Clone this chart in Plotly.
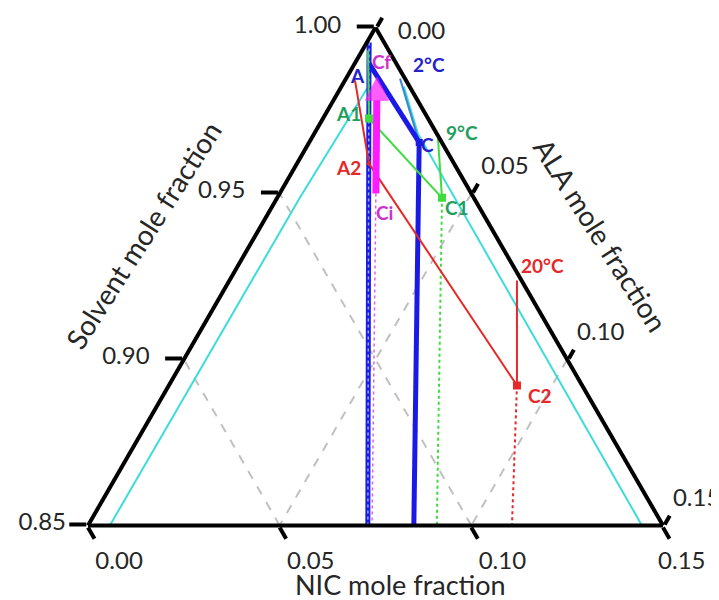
import plotly.graph_objects as go

W, H = 719, 600
OFF = 8  # page body margin of the browser

# ---------------- data (ternary fractions: a = Solvent, b, c) ----------------
# axis ticks
solvent_ticks = [0.85, 0.90, 0.95, 1.00]
solvent_labels = ["0.85", "0.90", "0.95", "1.00"]
nic_tickvals = [0.15, 0.10, 0.05, 0.00]
nic_labels = ["0.00", "0.05", "0.10", "0.15"]
ala_tickvals = [0.00, 0.05, 0.10, 0.15]
ala_labels = ["0.00", "0.05", "0.10", "0.15"]

# cyan boundary lines
cyanL_a = [0.9816, 0.9488, 0.85]
cyanL_b = [0.0114, 0.0453, 0.1443]
cyanL_c = [0.0070, 0.0059, 0.0057]
cyanR_a = [0.9822, 0.9681, 0.85]
cyanR_b = [0.0015, 0.0049, 0.0055]
cyanR_c = [0.0163, 0.0270, 0.1445]

# 2 C (blue)
blueL_a = [0.9955, 0.9892, 0.85]
blueL_b = [0.0039, 0.0071, 0.0770]
blueL_c = [0.0006, 0.0037, 0.0730]
blueR_a = [0.9654, 0.85]
blueR_b = [0.0059, 0.0650]
blueR_c = [0.0287, 0.0850]
blueTie_a = [0.9892, 0.9654]
blueTie_b = [0.0071, 0.0059]
blueTie_c = [0.0037, 0.0287]
steel_a = [0.9846, 0.9654]
steel_b = [0.0013, 0.0059]
steel_c = [0.0141, 0.0287]

# 9 C (green)
greenL_a = [0.9931, 0.9726]
greenL_b = [0.0054, 0.0154]
greenL_c = [0.0015, 0.0120]
greenTie_a = [0.9726, 0.9488]
greenTie_b = [0.0154, 0.0083]
greenTie_c = [0.0120, 0.0430]
greenR_a = [0.9666, 0.9488]
greenR_b = [0.0004, 0.0083]
greenR_c = [0.0330, 0.0430]
greenDot_a = [0.9488, 0.85]
greenDot_b = [0.0083, 0.0590]
greenDot_c = [0.0430, 0.0910]

# 20 C (red)
redL_a = [0.9840, 0.9590]
redL_b = [0.0133, 0.0222]
redL_c = [0.0026, 0.0188]
redTie_a = [0.9590, 0.8922]
redTie_b = [0.0222, 0.0170]
redTie_c = [0.0188, 0.0908]
redR_a = [0.9238, 0.8922]
redR_b = [0.0012, 0.0170]
redR_c = [0.0750, 0.0908]
redDot_a = [0.8922, 0.85]
redDot_b = [0.0170, 0.0394]
redDot_c = [0.0908, 0.1106]

# magenta Ci -> Cf
magDot_a = [0.95, 0.85]
magDot_b = [0.0249, 0.0759]
magDot_c = [0.0251, 0.0741]
arrow_a = [0.95, 0.9849]
arrow_b = [0.0249, 0.0071]
arrow_c = [0.0251, 0.0079]

# ---------------- colours ----------------
CYAN = "#3ddcdc"
BLUE = "#1a1ae6"
STEEL = "#3a86d6"
GREEN = "#3fdc3f"
RED = "#e62828"
MAG = "#ff1aff"

fig = go.Figure()


def line(a, b, c, color, width, dash="solid"):
    fig.add_trace(go.Scatterternary(a=a, b=b, c=c, mode="lines",
                                    line=dict(color=color, width=width, dash=dash),
                                    hoverinfo="skip", showlegend=False))


def markers(a, b, c, color, size, symbol="square"):
    fig.add_trace(go.Scatterternary(a=a, b=b, c=c, mode="markers",
                                    marker=dict(color=color, size=size, symbol=symbol),
                                    hoverinfo="skip", showlegend=False))


line(cyanL_a, cyanL_b, cyanL_c, CYAN, 2)
line(cyanR_a, cyanR_b, cyanR_c, CYAN, 2)
line(greenDot_a, greenDot_b, greenDot_c, GREEN, 2, "dot")
line(redDot_a, redDot_b, redDot_c, RED, 2, "dot")
line(magDot_a, magDot_b, magDot_c, "#e060e0", 1.5, "dot")
line(blueL_a, blueL_b, blueL_c, BLUE, 5)
line(blueL_a, blueL_b, blueL_c, "#8fb0ee", 1.5, "dot")
line(blueR_a, blueR_b, blueR_c, BLUE, 5)
line(steel_a, steel_b, steel_c, STEEL, 2)
line(blueTie_a, blueTie_b, blueTie_c, BLUE, 5)
line(greenL_a, greenL_b, greenL_c, GREEN, 2)
line(greenTie_a, greenTie_b, greenTie_c, GREEN, 2)
line(greenR_a, greenR_b, greenR_c, GREEN, 2)
line(redL_a, redL_b, redL_c, RED, 2)
line(redTie_a, redTie_b, redTie_c, RED, 2)
line(redR_a, redR_b, redR_c, RED, 2)

# arrow Ci -> Cf
fig.add_trace(go.Scatterternary(a=arrow_a, b=arrow_b, c=arrow_c, mode="lines+markers",
                                line=dict(color=MAG, width=7),
                                marker=dict(color=MAG, size=[0, 23], symbol="arrow-up",
                                            line=dict(color=MAG, width=1)),
                                hoverinfo="skip", showlegend=False))

markers([greenTie_a[0], greenTie_a[1]], [greenTie_b[0], greenTie_b[1]],
        [greenTie_c[0], greenTie_c[1]], GREEN, 8)
markers([redTie_a[1]], [redTie_b[1]], [redTie_c[1]], RED, 8)
markers([redTie_a[0]], [redTie_b[0]], [redTie_c[0]], RED, 6, "triangle-left")
markers([blueTie_a[1]], [blueTie_b[1]], [blueTie_c[1]], BLUE, 7)

# ---------------- layout ----------------
FONT = "Lato, Open Sans, sans-serif"
TXT = "#262626"
NB = "\u00a0"

# small spacing tweaks so the tick texts sit where the reference has them
sol_pad = [0, 2, 2, 2]
sol_text = [t + NB * n for t, n in zip(solvent_labels, sol_pad)]
nic_pad = [8, 8, 8, 4]
nic_text = [NB * n + t for t, n in zip(nic_labels, nic_pad)]
ala_text = [NB + "<br>" + NB * 2 + ala_labels[0]] + [t + "<br>" + NB for t in ala_labels[1:]]

axis_common = dict(linecolor="black", linewidth=4, ticks="outside",
                   tickwidth=4, tickcolor="black", tickmode="array",
                   tickfont=dict(size=24, color=TXT, family=FONT), title=dict(text=""))

fig.update_layout(
    width=W, height=H,
    margin=dict(l=0, r=0, t=0, b=0),
    paper_bgcolor="white",
    showlegend=False,
    ternary=dict(
        sum=1,
        bgcolor="white",
        domain=dict(x=[(88 - OFF) / W, (663 - OFF) / W],
                    y=[1 - (526 - OFF) / H, 1 - (27 - OFF) / H]),
        aaxis=dict(min=0.85, tickvals=solvent_ticks, ticktext=sol_text,
                   showgrid=False, ticklen=17, **axis_common),
        baxis=dict(min=0.0, tickvals=nic_tickvals, ticktext=nic_text, ticklen=13,
                   showgrid=True, gridcolor="#c0c0c0", gridwidth=1.5, griddash="dash",
                   **axis_common),
        caxis=dict(min=0.0, tickvals=ala_tickvals, ticktext=ala_text, ticklen=10,
                   showgrid=True, gridcolor="#c0c0c0", gridwidth=1.5, griddash="dash",
                   **axis_common),
    ),
)


def ann(text, px, py, color, size=19, angle=0, bold=True):
    fig.add_annotation(text=f"<b>{text}</b>" if bold else text,
                       x=(px - OFF) / W, y=1 - (py - OFF) / H,
                       xref="paper", yref="paper", xanchor="center", yanchor="middle",
                       showarrow=False, textangle=angle,
                       font=dict(size=size, color=color, family=FONT))


# axis titles
ann("Solvent mole fraction", 143, 235, TXT, 28, -57.5, bold=False)
ann("ALA mole fraction", 601, 235, TXT, 28, 57.5, bold=False)
ann("NIC mole fraction", 400, 584, TXT, 27, 0, bold=False)

# point / curve labels
ann("A", 357, 75, "#2323c8")
ann("Cf", 381, 62, "#cc33cc")
ann("2°C", 429, 65, "#2323c8")
ann("C", 427, 145, "#2323c8")
ann("A1", 348, 114, "#1f9e5e")
ann("9°C", 462, 132, "#1f9e5e")
ann("A2", 348, 168, RED)
ann("Ci", 385, 212, "#cc33cc")
ann("C1", 457, 208, "#1f9e5e")
ann("20°C", 542, 265, RED)
ann("C2", 540, 395, RED)

fig.write_html("out.html")
